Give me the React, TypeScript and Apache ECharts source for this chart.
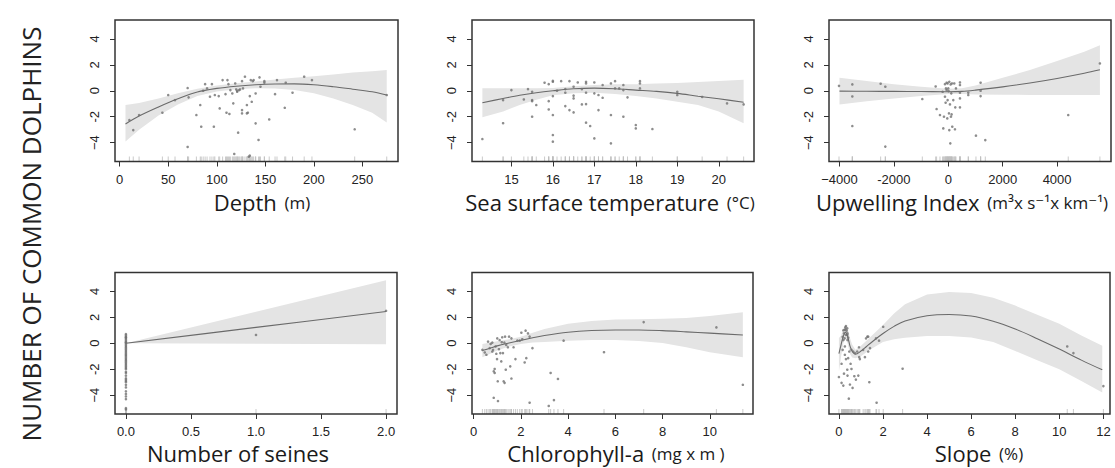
import React, { useEffect, useRef } from "react";
import * as echarts from "echarts";

// ---------- Shared y axis ----------
const yTicks = [-4, -2, 0, 2, 4];
const yTickLabels = ["\u22124", "-2", "0", "2", "4"];
const Y_MIN = -5.45;
const Y_MAX = 5.45;
const yTitle = "NUMBER OF COMMON DOLPHINS";

// ---------- Panel 1: Depth ----------
const depthTicks = [0, 50, 100, 150, 200, 250];
const depthTickLabels = ["0", "50", "100", "150", "200", "250"];
const depthPoints = [
  [10, -2.26], [14, -3.03], [20, -1.87], [44, -1.69], [50, -0.33], [57, -0.72], [70, 0.21], [71, -0.51],
  [70, -4.33], [79, -1.87], [83, -1.1], [84, -2.77], [86, 0.0], [88, 0.51], [90, 0.18], [95, 0.51],
  [93, -0.46], [97, -2.77], [98, -0.33], [102, -0.41], [103, -1.36], [106, 0.82], [109, -0.26], [110, -1.69],
  [111, 0.82], [112, 0.51], [113, -1.79], [114, 0.05], [116, -0.21], [117, -0.97], [118, -4.87], [119, 0.56],
  [120, 0.1], [121, 0.0], [121, -0.08], [122, -3.23], [123, 0.05], [124, 0.1], [126, -1.49], [126, -1.74],
  [126, 0.74], [127, 0.18], [129, 1.08], [131, -1.1], [131, -1.74], [132, -1.69], [133, -5.08], [134, -0.41],
  [134, -5.0], [135, 0.82], [136, -0.85], [137, 0.74], [138, 0.82], [140, -0.21], [140, -2.51], [143, -3.79],
  [144, 1.03], [145, 0.31], [149, 0.62], [149, 0.74], [154, -2.21], [160, -0.26], [162, 0.82], [170, -1.31],
  [171, 0.62], [178, -0.15], [190, 1.08], [198, 0.82], [242, -2.97], [275, -0.33],
];
const depthCurveX = [6, 20, 40, 60, 80, 100, 120, 140, 160, 180, 200, 220, 240, 260, 275];
const depthFit = [-2.56, -1.95, -1.25, -0.62, -0.1, 0.18, 0.35, 0.46, 0.52, 0.53, 0.46, 0.31, 0.12, -0.08, -0.33];
const depthUpper = [-1.1, -0.95, -0.6, -0.2, 0.15, 0.4, 0.58, 0.72, 0.86, 1.0, 1.12, 1.26, 1.4, 1.5, 1.6];
const depthLower = [-3.9, -3.0, -1.9, -1.05, -0.4, -0.05, 0.12, 0.2, 0.18, 0.05, -0.2, -0.6, -1.1, -1.7, -2.45];

// ---------- Panel 2: Sea surface temperature ----------
const sstTicks = [15, 16, 17, 18, 19, 20];
const sstTickLabels = ["15", "16", "17", "18", "19", "20"];
const sstPoints = [
  [14.3, -3.72], [14.8, -2.5], [14.8, -0.72], [15.0, 0.05], [15.3, -0.67], [15.4, 0.13], [15.5, -0.08], [15.5, -0.72],
  [15.5, -0.8], [15.5, -2.0], [15.6, -1.1], [15.8, 0.62], [15.9, 0.51], [15.9, -0.8], [15.9, -1.44], [16.0, 0.69],
  [16.0, 0.77], [16.0, -0.41], [16.0, -1.87], [16.0, -3.41], [16.0, -3.92], [16.1, 0.0], [16.2, 0.74], [16.3, 0.13],
  [16.3, -0.15], [16.3, -1.18], [16.4, 0.74], [16.4, -1.49], [16.5, 0.31], [16.5, -0.38], [16.5, -0.59], [16.5, -1.67],
  [16.6, 0.64], [16.7, 0.13], [16.7, -1.05], [16.8, 0.69], [16.8, 0.56], [16.8, -0.15], [16.8, -1.03], [16.8, -2.46],
  [16.9, -2.72], [17.0, 0.64], [17.0, -0.2], [17.0, -3.67], [17.1, -0.33], [17.1, -1.49], [17.2, 0.44], [17.2, -0.54],
  [17.4, 0.56], [17.4, -1.87], [17.4, -4.05], [17.5, 0.74], [17.5, 0.18], [17.6, 0.18], [17.7, 0.44], [17.7, 0.05],
  [17.7, -2.0], [17.8, -0.51], [18.0, -2.64], [18.0, -2.9], [18.1, 0.74], [18.1, 0.56], [18.1, 0.18], [18.4, -2.95],
  [19.0, -0.08], [19.0, -0.33], [19.6, -0.48], [20.2, -0.97], [20.6, -1.05],
];
const sstCurveX = [14.3, 14.8, 15.2, 15.6, 16.0, 16.5, 17.0, 17.5, 18.0, 18.5, 19.0, 19.5, 20.0, 20.6];
const sstFit = [-0.92, -0.6, -0.35, -0.15, 0.0, 0.15, 0.2, 0.15, 0.05, -0.05, -0.2, -0.42, -0.62, -0.88];
const sstUpper = [0.2, 0.2, 0.2, 0.2, 0.22, 0.35, 0.45, 0.5, 0.5, 0.55, 0.6, 0.68, 0.75, 0.85];
const sstLower = [-2.05, -1.6, -1.1, -0.7, -0.35, -0.2, -0.15, -0.25, -0.4, -0.6, -0.85, -1.1, -1.6, -2.5];

// ---------- Panel 3: Upwelling Index ----------
const upwTicks = [-4000, -2000, 0, 2000, 4000];
const upwTickLabels = ["\u22124000", "-2000", "0", "2000", "4000"];
const upwPoints = [
  [-4018, 0.38], [-3528, 0.49], [-3528, -0.44], [-3528, -2.72], [-2487, 0.54], [-2315, 0.31], [-2315, -4.3], [-955, -0.64],
  [-465, 0.33], [-430, -1.41], [-306, -1.87], [-208, -0.08], [-184, -2.9], [-159, -2.0], [-122, 0.51], [-122, -0.46],
  [-98, -0.92], [-86, 0.18], [-61, 0.62], [-61, 0.05], [-37, -2.13], [-25, -0.72], [-25, 0.56], [0, 0.18],
  [12, -0.03], [25, -1.74], [37, 0.69], [37, -3.03], [61, -1.05], [74, -4.05], [86, 0.49], [98, -2.0],
  [110, -0.2], [122, -1.82], [135, 0.56], [147, -2.77], [184, -0.72], [220, 0.56], [245, -2.97], [257, -1.28],
  [282, 0.18], [429, 0.64], [429, 0.44], [429, -0.15], [429, -0.59], [429, -1.28], [735, -0.15], [735, -0.33],
  [1188, 0.0], [1188, -0.41], [1188, 0.62], [1017, -3.46], [1360, -3.8], [4410, -1.87], [5574, 2.1],
];
const upwCurveX = [-4000, -3000, -2000, -1000, 0, 500, 1000, 2000, 3000, 4000, 5000, 5574];
const upwFit = [-0.03, -0.04, -0.05, -0.06, -0.08, -0.05, 0.05, 0.3, 0.6, 0.95, 1.35, 1.62];
const upwUpper = [1.0, 0.75, 0.5, 0.3, 0.15, 0.2, 0.4, 1.0, 1.6, 2.3, 3.0, 3.5];
const upwLower = [-1.05, -0.8, -0.6, -0.4, -0.25, -0.25, -0.28, -0.3, -0.32, -0.33, -0.33, -0.33];

// ---------- Panel 4: Number of seines ----------
const seineTicks = [0, 0.5, 1, 1.5, 2];
const seineTickLabels = ["0.0", "0.5", "1.0", "1.5", "2.0"];
const seineZeroValues = [
  0.7, 0.6, 0.5, 0.45, 0.4, 0.3, 0.2, 0.1, 0.05, 0, -0.1, -0.2, -0.3, -0.4, -0.5, -0.6, -0.7, -0.8, -0.9, -1.0,
  -1.1, -1.2, -1.3, -1.4, -1.5, -1.6, -1.7, -1.8, -1.9, -2.0, -2.2, -2.3, -2.5, -2.7, -2.8, -2.9, -3.0, -3.2,
  -3.4, -3.7, -3.9, -4.1, -4.3, -5.0, -5.1,
];
const seineOtherPoints = [[1.0, 0.64], [2.0, 2.5]];
const seineCurveX = [0, 1, 2];
const seineFit = [0, 1.22, 2.45];
const seineUpper = [0, 2.42, 4.85];
const seineLower = [0, -0.04, -0.08];

// ---------- Panel 5: Chlorophyll-a ----------
const chlTicks = [0, 2, 4, 6, 8, 10];
const chlTickLabels = ["0", "2", "4", "6", "8", "10"];
const chlPoints = [
  [0.37, -0.51], [0.47, -0.71], [0.54, -0.89], [0.61, 0.13], [0.68, -0.38], [0.72, -0.05], [0.79, 0.05], [0.79, -0.64],
  [0.82, -0.51], [0.85, -2.16], [0.85, -4.2], [0.89, -1.98], [0.89, -2.29], [0.93, -0.25], [0.96, -0.81], [0.99, -1.22],
  [1.0, 0.38], [1.02, -2.93], [1.03, -4.45], [1.07, -0.46], [1.1, 0.25], [1.13, -0.76], [1.17, -1.4], [1.19, 0.08],
  [1.21, 0.46], [1.24, -0.76], [1.27, -2.93], [1.3, 0.05], [1.31, -3.05], [1.33, 0.51], [1.36, -2.04], [1.38, -0.13],
  [1.45, -0.31], [1.5, 0.51], [1.55, -1.78], [1.6, 0.38], [1.6, -2.72], [1.69, -0.31], [1.77, -1.22], [1.85, 0.2],
  [1.95, 0.2], [2.02, 0.81], [2.06, 0.31], [2.16, -1.48], [2.2, 0.97], [2.23, -1.15], [2.3, 0.76], [2.37, 0.51],
  [2.37, -4.58], [2.49, -0.38], [3.18, -4.83], [3.26, -2.29], [3.4, -4.38], [3.57, -2.75], [3.81, 0.2], [5.52, -0.69],
  [7.2, 1.63], [10.28, 1.22], [11.4, -3.2],
];
const chlCurveX = [0.37, 0.7, 1.0, 1.5, 2.0, 2.5, 3.0, 4.0, 5.0, 6.0, 7.0, 8.0, 9.0, 10.0, 11.4];
const chlFit = [-0.56, -0.38, -0.2, 0.02, 0.22, 0.42, 0.6, 0.85, 0.98, 1.02, 1.02, 0.97, 0.88, 0.78, 0.64];
const chlUpper = [-0.05, 0.05, 0.15, 0.3, 0.5, 0.8, 1.1, 1.5, 1.72, 1.82, 1.85, 1.88, 1.95, 2.1, 2.38];
const chlLower = [-1.07, -0.8, -0.55, -0.25, -0.05, 0.05, 0.1, 0.2, 0.25, 0.25, 0.18, 0.02, -0.3, -0.7, -1.08];

// ---------- Panel 6: Slope ----------
const slopeTicks = [0, 2, 4, 6, 8, 10, 12];
const slopeTickLabels = ["0", "2", "4", "6", "8", "10", "12"];
const slopePoints = [
  [0.0, -2.6], [0.12, -1.58], [0.17, -0.51], [0.2, 0.25], [0.23, 0.76], [0.26, 1.02], [0.29, 1.22], [0.32, 1.32],
  [0.35, 0.97], [0.38, 0.64], [0.39, 0.25], [0.42, 0.43], [0.26, 0.38], [0.32, 0.64], [0.2, -3.26], [0.23, -2.34],
  [0.27, -0.89], [0.32, -1.22], [0.38, -2.04], [0.39, -2.49], [0.42, -1.15], [0.45, -4.27], [0.47, -0.64], [0.5, -3.18],
  [0.53, -1.58], [0.57, -1.98], [0.57, -0.51], [0.62, -3.44], [0.65, -0.64], [0.7, -2.54], [0.73, -0.76], [0.77, -2.8],
  [0.83, -0.64], [0.88, -2.49], [0.91, -0.31], [0.92, -1.07], [0.95, -1.22], [1.1, -0.51], [1.18, -1.07], [1.23, 0.38],
  [1.29, 0.51], [1.33, 0.51], [1.33, -0.64], [1.38, -3.0], [1.41, -0.38], [1.68, 0.38], [1.71, -4.58], [1.82, 0.2],
  [2.01, 1.27], [2.89, -1.96], [10.36, -0.25], [10.64, -0.76], [12.0, -3.3], [0.17, 0.5], [0.2, 1.0], [0.3, 1.07],
  [0.38, 1.15], [0.39, 0.76], [0.27, -0.25], [0.12, -3.05],
];
const slopeCurveX = [0.0, 0.1, 0.2, 0.3, 0.4, 0.5, 0.6, 0.75, 1.0, 1.25, 1.5, 2.0, 2.5, 3.0, 4.0, 5.0, 6.0, 7.0, 8.0, 9.0, 10.0, 11.0, 11.95];
const slopeFit = [-0.8, -0.1, 0.55, 0.85, 0.5, -0.2, -0.6, -0.85, -0.6, -0.25, 0.1, 0.75, 1.3, 1.72, 2.12, 2.22, 2.1, 1.7, 1.1, 0.35, -0.45, -1.3, -2.05];
const slopeUpper = [0.4, 0.6, 1.15, 1.45, 1.1, 0.4, -0.1, -0.5, -0.2, 0.2, 0.6, 1.4, 2.3, 3.0, 3.75, 3.95, 3.88, 3.5, 2.9, 2.2, 1.5, 0.6, -0.2];
const slopeLower = [-2.2, -1.0, 0.0, 0.4, -0.05, -0.8, -1.1, -1.15, -1.0, -0.7, -0.4, 0.1, 0.3, 0.42, 0.55, 0.55, 0.45, 0.1, -0.6, -1.3, -2.0, -2.9, -3.8];

// ---------- Axis titles ----------
const titleMain = ["Depth", "Sea surface temperature", "Upwelling Index", "Number of seines", "Chlorophyll-a", "Slope"];
const titleUnit = ["(m)", "(\u00b0C)", "(m\u00b3x s\u207b\u00b9x km\u207b\u00b9)", "", "(mg x m )", "(%)"];

// ---------- Layout (positions only) ----------
const layout = [
  { left: 115, top: 20, width: 283, height: 141.5, xmin: -4.8, xmax: 286.6, tx: 262, ty: 202 },
  { left: 472, top: 20, width: 282, height: 141.5, xmin: 14.05, xmax: 20.85, tx: 610, ty: 202 },
  { left: 829, top: 20, width: 282, height: 141.5, xmin: -4386, xmax: 5982, tx: 962, ty: 202 },
  { left: 115, top: 272.5, width: 282, height: 141.5, xmin: -0.084, xmax: 2.084, tx: 238, ty: 453 },
  { left: 472, top: 272.5, width: 281, height: 141.5, xmin: -0.07, xmax: 11.83, tx: 616, ty: 453 },
  { left: 829, top: 272.5, width: 281, height: 141.5, xmin: -0.45, xmax: 12.3, tx: 979, ty: 453 },
];

const TITLE_FONT = "'Open Sans', 'DejaVu Sans', sans-serif";
const TICK_FONT = "'Liberation Sans', Arial, sans-serif";

function buildOption() {
  const seinePoints = seineZeroValues.map((v) => [0, v]).concat(seineOtherPoints);
  const panels = [
    { ticks: depthTicks, labels: depthTickLabels, pts: depthPoints, cx: depthCurveX, fit: depthFit, hi: depthUpper, lo: depthLower },
    { ticks: sstTicks, labels: sstTickLabels, pts: sstPoints, cx: sstCurveX, fit: sstFit, hi: sstUpper, lo: sstLower },
    { ticks: upwTicks, labels: upwTickLabels, pts: upwPoints, cx: upwCurveX, fit: upwFit, hi: upwUpper, lo: upwLower },
    { ticks: seineTicks, labels: seineTickLabels, pts: seinePoints, cx: seineCurveX, fit: seineFit, hi: seineUpper, lo: seineLower },
    { ticks: chlTicks, labels: chlTickLabels, pts: chlPoints, cx: chlCurveX, fit: chlFit, hi: chlUpper, lo: chlLower },
    { ticks: slopeTicks, labels: slopeTickLabels, pts: slopePoints, cx: slopeCurveX, fit: slopeFit, hi: slopeUpper, lo: slopeLower },
  ];

  const grid: any[] = [];
  const xAxis: any[] = [];
  const yAxis: any[] = [];
  const series: any[] = [];
  const graphic: any[] = [];

  panels.forEach((p, i) => {
    const L = layout[i];
    grid.push({
      left: L.left, top: L.top, width: L.width, height: L.height,
      show: true, borderColor: "#333333", borderWidth: 1.5, backgroundColor: "rgba(0,0,0,0)", z: 10,
    });
    xAxis.push({
      gridIndex: i, type: "value", min: L.xmin, max: L.xmax, position: "bottom",
      splitLine: { show: false },
      axisLine: { show: false, onZero: false },
      axisTick: { show: true, length: 5, customValues: p.ticks, lineStyle: { color: "#333", width: 1 } },
      axisLabel: {
        customValues: p.ticks, margin: 11, fontSize: 13, color: "#222", fontFamily: TICK_FONT,
        formatter: (v: number) => p.labels[p.ticks.indexOf(v)] ?? String(v),
      },
    });
    yAxis.push({
      gridIndex: i, type: "value", min: Y_MIN, max: Y_MAX, position: "left",
      splitLine: { show: false },
      axisLine: { show: false, onZero: false },
      axisTick: { show: true, length: 5, customValues: yTicks, lineStyle: { color: "#333", width: 1 } },
      axisLabel: {
        customValues: yTicks, rotate: 90, margin: 14, fontSize: 13, color: "#222", fontFamily: TICK_FONT,
        formatter: (v: number) => yTickLabels[yTicks.indexOf(v)] ?? String(v),
      },
    });

    const bandData = p.cx.map((x, j) => [x, p.lo[j], p.hi[j]]);
    series.push({
      type: "custom", xAxisIndex: i, yAxisIndex: i, z: 1, silent: true, clip: true,
      data: bandData,
      encode: { x: 0, y: [1, 2] },
      renderItem: (params: any, api: any) => {
        if (params.dataIndex !== 0) return { type: "group", children: [] };
        const pts: number[][] = [];
        for (let j = 0; j < p.cx.length; j++) pts.push(api.coord([p.cx[j], p.hi[j]]));
        for (let j = p.cx.length - 1; j >= 0; j--) pts.push(api.coord([p.cx[j], p.lo[j]]));
        return { type: "polygon", shape: { points: pts }, style: { fill: "#e4e4e4", stroke: "none" } };
      },
    });
    series.push({
      type: "scatter", xAxisIndex: i, yAxisIndex: i, z: 2, silent: true,
      symbol: "rect", symbolSize: [1, 5], symbolOffset: [0, -2.5],
      itemStyle: { color: "#bdbdbd" },
      data: p.pts.map((d) => [d[0], Y_MIN]),
    });
    series.push({
      type: "line", xAxisIndex: i, yAxisIndex: i, z: 3, silent: true,
      smooth: 0.35, symbol: "none",
      lineStyle: { color: "#6a6a6a", width: 1.1 },
      data: p.cx.map((x, j) => [x, p.fit[j]]),
    });
    series.push({
      type: "scatter", xAxisIndex: i, yAxisIndex: i, z: 4, silent: true,
      symbol: "circle", symbolSize: 2.6,
      itemStyle: { color: "#707070" },
      data: p.pts,
    });

    graphic.push({
      type: "text", x: L.tx, y: L.ty,
      style: {
        text: titleUnit[i] ? `{a|${titleMain[i]}\u2009}{b|${titleUnit[i]}}` : `{a|${titleMain[i]}}`,
        rich: {
          a: { fontSize: 22, fontFamily: TITLE_FONT, fill: "#1a1a1a" },
          b: { fontSize: 17, fontFamily: TITLE_FONT, fill: "#1a1a1a", padding: [0, 0, 0, 4] },
        },
        align: "center", verticalAlign: "middle",
      },
    });
  });

  graphic.push({
    type: "text", x: 31, y: 234, rotation: Math.PI / 2,
    style: {
      text: yTitle, fontSize: 26, fontFamily: TITLE_FONT, fill: "#222",
      align: "center", verticalAlign: "middle",
    },
  });

  return {
    animation: false,
    backgroundColor: "#ffffff",
    grid, xAxis, yAxis, series, graphic,
  };
}

export default function App() {
  const ref = useRef<HTMLDivElement>(null);
  useEffect(() => {
    const chart = echarts.init(ref.current!, null, { renderer: "svg" });
    chart.setOption(buildOption());
    return () => chart.dispose();
  }, []);
  return <div ref={ref} style={{ position: "absolute", left: 0, top: 0, width: 1115, height: 468 }} />;
}
